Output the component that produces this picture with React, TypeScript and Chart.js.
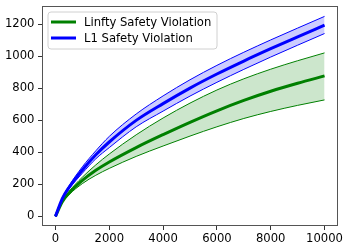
import React, { useEffect, useRef } from "react";
import { Chart, registerables } from "chart.js";

Chart.register(...registerables);

const xs = [0, 250, 500, 1000, 1500, 2000, 3000, 4000, 5000, 6000, 7000, 8000, 9000, 10000];

const linftyMean = [0, 90, 145, 225, 288, 340, 430, 511, 588, 660, 725, 782, 832, 878];
const linftyUpper = [0, 95, 155, 245, 322, 390, 510, 615, 708, 790, 860, 920, 973, 1022];
const linftyLower = [0, 85, 135, 205, 257, 300, 375, 440, 502, 560, 612, 656, 694, 728];

const l1Mean = [0, 110, 180, 290, 385, 465, 600, 705, 802, 890, 971, 1048, 1122, 1195];
const l1Upper = [0, 115, 190, 310, 410, 500, 640, 753, 854, 944, 1026, 1103, 1177, 1250];
const l1Lower = [0, 105, 170, 270, 360, 430, 560, 658, 752, 838, 919, 996, 1070, 1143];

const xTicks = [0, 2000, 4000, 6000, 8000, 10000];
const yTicks = [0, 200, 400, 600, 800, 1000, 1200];

const seriesNames = ["Linfty Safety Violation", "L1 Safety Violation"];
const seriesColors = ["#008000", "#0000ff"];
const bandColors = ["rgba(0,128,0,0.2)", "rgba(0,0,255,0.2)"];

const FONT_SIZE = 11.6;

const pts = (ys: number[]) => xs.map((x, i) => ({ x, y: ys[i] }));

const legendPlugin = {
  id: "mplLegend",
  afterDraw(chart: any) {
    const { ctx, chartArea } = chart;
    const left = chartArea.left + 6;
    const top = chartArea.top + 6;
    const w = 169;
    const h = 37;
    ctx.save();
    ctx.beginPath();
    const r = 3;
    ctx.moveTo(left + r, top);
    ctx.lineTo(left + w - r, top);
    ctx.quadraticCurveTo(left + w, top, left + w, top + r);
    ctx.lineTo(left + w, top + h - r);
    ctx.quadraticCurveTo(left + w, top + h, left + w - r, top + h);
    ctx.lineTo(left + r, top + h);
    ctx.quadraticCurveTo(left, top + h, left, top + h - r);
    ctx.lineTo(left, top + r);
    ctx.quadraticCurveTo(left, top, left + r, top);
    ctx.closePath();
    ctx.fillStyle = "rgba(255,255,255,0.8)";
    ctx.fill();
    ctx.strokeStyle = "#d0d0d0";
    ctx.lineWidth = 1;
    ctx.stroke();
    ctx.font = FONT_SIZE + "px 'DejaVu Sans'";
    ctx.textBaseline = "middle";
    ctx.textAlign = "left";
    seriesNames.forEach((name, i) => {
      const y = top + 10 + i * 16;
      ctx.strokeStyle = seriesColors[i];
      ctx.lineWidth = 3;
      ctx.beginPath();
      ctx.moveTo(left + 3, y);
      ctx.lineTo(left + 28, y);
      ctx.stroke();
      ctx.fillStyle = "#000";
      ctx.fillText(name, left + 36, y + 0.5);
    });
    ctx.restore();
  },
};

const framePlugin = {
  id: "frame",
  afterDatasetsDraw(chart: any) {
    const { ctx, chartArea } = chart;
    ctx.save();
    ctx.strokeStyle = "#555";
    ctx.lineWidth = 1;
    ctx.strokeRect(
      Math.round(chartArea.left) + 0.5,
      Math.round(chartArea.top) + 0.5,
      Math.round(chartArea.right - chartArea.left) - 1,
      Math.round(chartArea.bottom - chartArea.top) - 1
    );
    ctx.restore();
  },
};

export default function App() {
  const ref = useRef<HTMLCanvasElement | null>(null);
  useEffect(() => {
    document.body.style.margin = "0";
    if (!ref.current) return;
    Chart.defaults.font.family = "'DejaVu Sans'";
    Chart.defaults.font.size = FONT_SIZE;
    Chart.defaults.color = "#000";
    const band = (ys: number[], color: string, fillTo: number | false, bg: string, order: number) => ({
      data: pts(ys),
      borderColor: color,
      borderWidth: 1,
      backgroundColor: bg,
      fill: fillTo === false ? false : fillTo,
      pointRadius: 0,
      cubicInterpolationMode: "monotone" as const,
      order,
    });
    const chart = new Chart(ref.current, {
      type: "line",
      data: {
        datasets: [
          band(linftyLower, seriesColors[0], false, bandColors[0], 5),
          band(linftyUpper, seriesColors[0], 0, bandColors[0], 4),
          {
            data: pts(linftyMean),
            borderColor: seriesColors[0],
            borderWidth: 3,
            pointRadius: 0,
            fill: false,
            cubicInterpolationMode: "monotone" as const,
            order: 3,
          },
          band(l1Lower, seriesColors[1], false, bandColors[1], 2),
          band(l1Upper, seriesColors[1], 3, bandColors[1], 1),
          {
            data: pts(l1Mean),
            borderColor: seriesColors[1],
            borderWidth: 3,
            pointRadius: 0,
            fill: false,
            cubicInterpolationMode: "monotone" as const,
            order: 0,
          },
        ],
      },
      options: {
        responsive: false,
        animation: false,
        layout: { padding: { top: 6, right: 11, left: 0, bottom: 0 } },
        plugins: {
          legend: { display: false },
          tooltip: { enabled: false },
        },
        scales: {
          x: {
            type: "linear",
            min: -500,
            max: 10500,
            afterBuildTicks: (axis: any) => {
              axis.ticks = xTicks.map((v) => ({ value: v }));
            },
            afterFit: (axis: any) => {
              axis.height = 24;
              axis.paddingLeft = 0;
              axis.paddingRight = 0;
            },
            grid: { display: true, drawOnChartArea: false, drawTicks: true, tickLength: 4, color: "#333" },
            border: { display: false },
            ticks: { padding: 2, maxRotation: 0, autoSkip: false, color: "#000", callback: (v: any) => String(v) },
          },
          y: {
            type: "linear",
            min: -60,
            max: 1315,
            afterBuildTicks: (axis: any) => {
              axis.ticks = yTicks.map((v) => ({ value: v }));
            },
            afterFit: (axis: any) => {
              axis.width = 42;
              axis.paddingTop = 0;
              axis.paddingBottom = 0;
            },
            grid: { display: true, drawOnChartArea: false, drawTicks: true, tickLength: 4, color: "#333" },
            border: { display: false },
            ticks: { padding: 3.5, autoSkip: false, color: "#000", callback: (v: any) => String(v) },
          },
        },
      },
      plugins: [framePlugin, legendPlugin],
    });
    return () => chart.destroy();
  }, []);
  return (
    <div style={{ width: 349, height: 250 }}>
      <canvas ref={ref} width={349} height={250} style={{ display: "block" }} />
    </div>
  );
}
